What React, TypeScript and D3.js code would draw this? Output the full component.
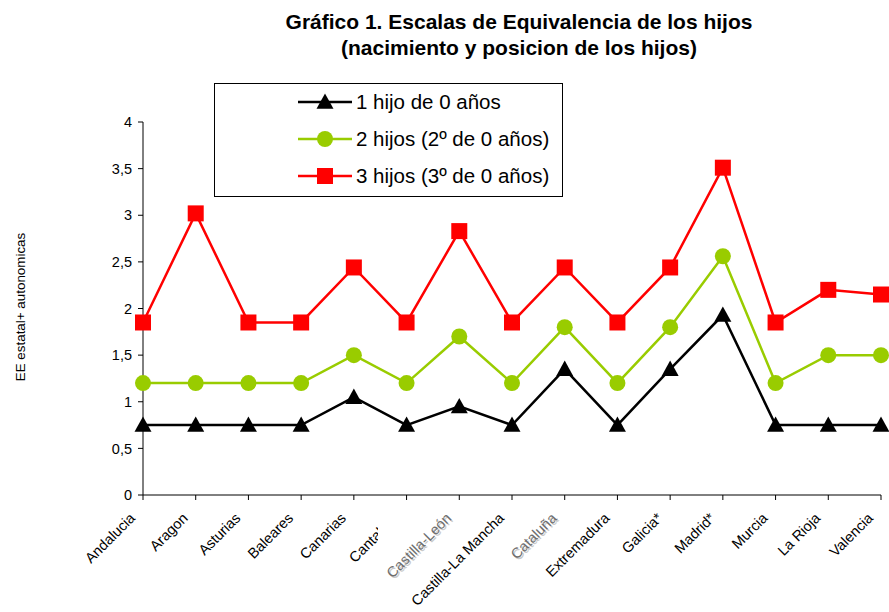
import React from "react";
import * as d3 from "d3";

const categories = ["Andalucia","Aragon","Asturias","Baleares","Canarias","Cantabria","Castilla-León","Castilla-La Mancha","Cataluña","Extremadura","Galicia*","Madrid*","Murcia","La Rioja","Valencia"];
const serie1 = [0.75,0.75,0.75,0.75,1.05,0.75,0.95,0.75,1.35,0.75,1.35,1.93,0.75,0.75,0.75];
const serie2 = [1.2,1.2,1.2,1.2,1.5,1.2,1.7,1.2,1.8,1.2,1.8,2.56,1.2,1.5,1.5];
const serie3 = [1.85,3.02,1.85,1.85,2.44,1.85,2.83,1.85,2.44,1.85,2.44,3.51,1.85,2.2,2.15];
const seriesNames = ["1 hijo de 0 años","2 hijos (2º de 0 años)","3 hijos (3º de 0 años)"];
const yTicks = [0,0.5,1,1.5,2,2.5,3,3.5,4];
const grayLabels = ["Castilla-León","Cataluña"];

const W = 889, H = 612;
const FONT = "'Liberation Sans', Arial, sans-serif";

export default function App() {
  const x = d3.scalePoint<string>().domain(categories).range([143, 881]);
  const y = d3.scaleLinear().domain([0, 4]).range([495, 122]);
  const line = d3.line<number>().x((_, i) => x(categories[i])!).y(d => y(d));
  const colors = ["#000000", "#99CC00", "#FF0000"];
  const data = [serie1, serie2, serie3];

  const marker = (k: number, cx: number, cy: number, key: string) => {
    if (k === 0) {
      const s = 8.5;
      return <path key={key} d={`M${cx},${cy - s}L${cx + s},${cy + s * 0.8}L${cx - s},${cy + s * 0.8}Z`} fill="#000" />;
    }
    if (k === 1) return <circle key={key} cx={cx} cy={cy} r={8} fill="#99CC00" />;
    return <rect key={key} x={cx - 8} y={cy - 8} width={16} height={16} fill="#FF0000" />;
  };

  const fmt = (v: number) => String(v).replace(".", ",");
  const LFS = 14.5;

  return (
    <svg width={W} height={H} style={{ position: "absolute", left: 0, top: 0 }} fontFamily={FONT}>
      <defs>
        <clipPath id="cantClip" clipPathUnits="userSpaceOnUse">
          <rect x={0} y={0} width={378} height={H} />
        </clipPath>
      </defs>
      <rect width={W} height={H} fill="#fff" />
      <text x={519} y={29} textAnchor="middle" fontSize={21} fontWeight="bold">Gráfico 1. Escalas de Equivalencia de los hijos</text>
      <text x={519} y={55} textAnchor="middle" fontSize={21} fontWeight="bold">(nacimiento y posicion de los hijos)</text>

      <text transform={`translate(25,307) rotate(-90)`} textAnchor="middle" fontSize={13.4}>EE estatal+ autonomicas</text>

      {/* y axis */}
      <line x1={143} x2={143} y1={y(4)} y2={y(0)} stroke="#000" />
      {yTicks.map(t => (
        <g key={t}>
          <line x1={138} x2={143} y1={y(t)} y2={y(t)} stroke="#000" />
          <text x={132} y={y(t)} dy="0.36em" textAnchor="end" fontSize={14.5}>{fmt(t)}</text>
        </g>
      ))}
      {/* x axis */}
      <line x1={143} x2={881} y1={y(0)} y2={y(0)} stroke="#000" />
      {categories.map(c => (
        <line key={c} x1={x(c)!} x2={x(c)!} y1={y(0)} y2={y(0) + 5} stroke="#000" />
      ))}
      {categories.map(c => {
        const tx = x(c)! - 7;
        const ty = 519;
        const gray = grayLabels.includes(c);
        const tr = `translate(${tx},${ty}) rotate(-45)`;
        if (gray) {
          return (
            <g key={c}>
              <text transform={`translate(${tx + 1.5},${ty + 1.5}) rotate(-45)`} textAnchor="end" fontSize={LFS} fill="#c8c8c8">{c}</text>
              <text transform={tr} textAnchor="end" fontSize={LFS} fill="#6e6e6e">{c}</text>
            </g>
          );
        }
        return (
          <g key={c} clipPath={c === "Cantabria" ? "url(#cantClip)" : undefined}>
            <text transform={tr} textAnchor="end" fontSize={LFS} fill="#000">{c}</text>
          </g>
        );
      })}

      {/* series */}
      {data.map((s, k) => (
        <path key={"l" + k} d={line(s)!} fill="none" stroke={colors[k]} strokeWidth={2.5} />
      ))}
      {data.map((s, k) => s.map((v, i) => marker(k, x(categories[i])!, y(v), `m${k}-${i}`)))}

      {/* legend */}
      <rect x={214.5} y={83.5} width={348} height={113} fill="#fff" stroke="#000" />
      {seriesNames.map((n, k) => {
        const ly = 102 + k * 37;
        return (
          <g key={n}>
            <line x1={298} x2={352} y1={ly} y2={ly} stroke={colors[k]} strokeWidth={2.5} />
            {marker(k, 325, ly, "lg" + k)}
            <text x={356} y={ly} dy="0.36em" fontSize={20.5}>{n}</text>
          </g>
        );
      })}
    </svg>
  );
}
